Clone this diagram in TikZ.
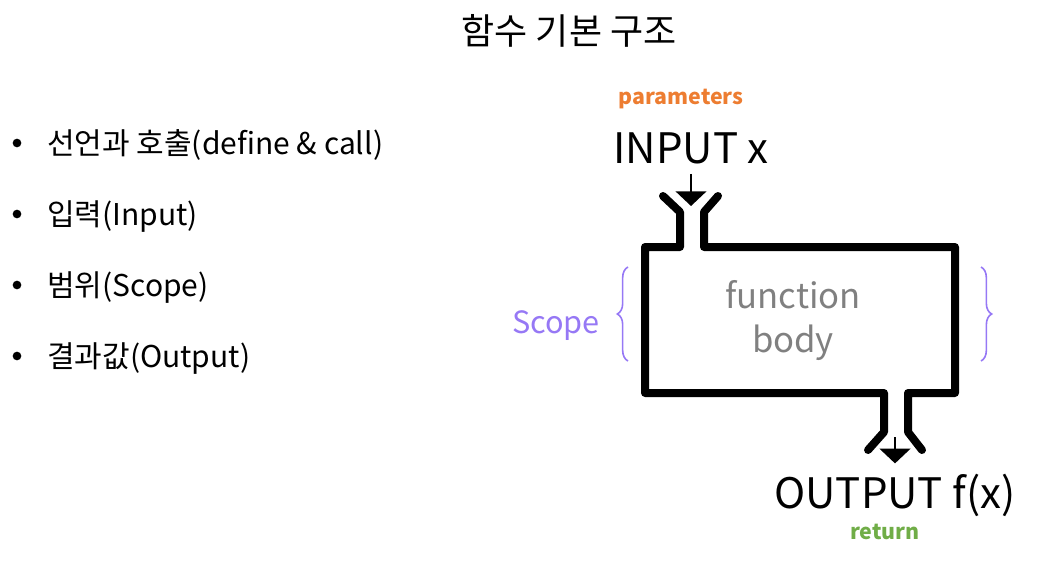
\documentclass[tikz,border=0pt]{standalone}
\usepackage{fontspec}
\setmainfont{Noto Sans CJK KR}
\usetikzlibrary{arrows.meta,decorations.pathreplacing}
\definecolor{paramorange}{RGB}{237,125,49}
\definecolor{returngreen}{RGB}{112,173,71}
\definecolor{scopepurple}{RGB}{150,120,245}
\definecolor{bodygray}{RGB}{128,128,128}

\begin{document}
\begin{tikzpicture}[x=0.75pt,y=-0.75pt,
		bullet/.style={anchor=base west,inner sep=0pt,font=\fontsize{22.5}{26}\selectfont},
		dotmark/.style={circle,fill=black,inner sep=0pt,minimum size=6.5pt},
		io/.style={anchor=base,inner sep=0pt,font=\fontsize{31.5}{36}\selectfont},
		tag/.style={anchor=base,inner sep=0pt,font=\fontsize{16}{19}\selectfont\bfseries},
		pipe/.style={line width=6pt,line cap=round,line join=round},
		feed/.style={line width=1.5pt,-{Triangle[width=23pt,length=11pt]}},
		scopebrace/.style={scopepurple,line width=1.2pt,decorate,decoration={brace,amplitude=8pt}}]
		\useasboundingbox (0,0) rectangle (1055,574);
		\node[anchor=base,inner sep=0pt,font=\fontsize{27}{32}\selectfont] (title) at (569,45) {함수 기본 구조};
		\foreach \txt [count=\i] in {{선언과 호출(define \& call)},{입력(Input)},{범위(Scope)},{결과값(Output)}}{
			\node[dotmark] (dot\i) at (17,72+71*\i) {};
			\node[bullet] (item\i) at (47,83+71*\i) {\txt};
		}
		\node[tag,text=paramorange] (params) at (681,105) {parameters};
		\node[io] (input) at (691,163) {INPUT x};
		\node[io] (output) at (895,508) {OUTPUT f(x)};
		\node[tag,text=returngreen] (ret) at (885,539) {return};
		\node[anchor=base,inner sep=0pt,align=center,text=bodygray,font=\fontsize{26}{33}\selectfont] (body) at (793,352) {function\\body};
		\node[anchor=base,inner sep=0pt,text=scopepurple,font=\fontsize{23}{27}\selectfont] (scope) at (556,333) {Scope};
		\coordinate (intip) at (691,206);
		\coordinate (outtop) at (895,437);
		\draw[pipe] (663,196) -- (680,212) -- (680,247) -- (645,247) -- (645,393) -- (884,393) -- (884,432) -- (868,450);
		\draw[pipe] (718,196) -- (704,212) -- (704,247) -- (955,247) -- (955,393) -- (908,393) -- (908,432) -- (922,450);
		\draw[feed,shorten <=7.5pt] (input.south) -- (intip);
		\draw[feed,shorten >=7.5pt] (outtop) -- (output.north);
		\draw[scopebrace] (628,361) -- (628,267);
		\draw[scopebrace] (981,267) -- (981,361);
\end{tikzpicture}
\end{document}
